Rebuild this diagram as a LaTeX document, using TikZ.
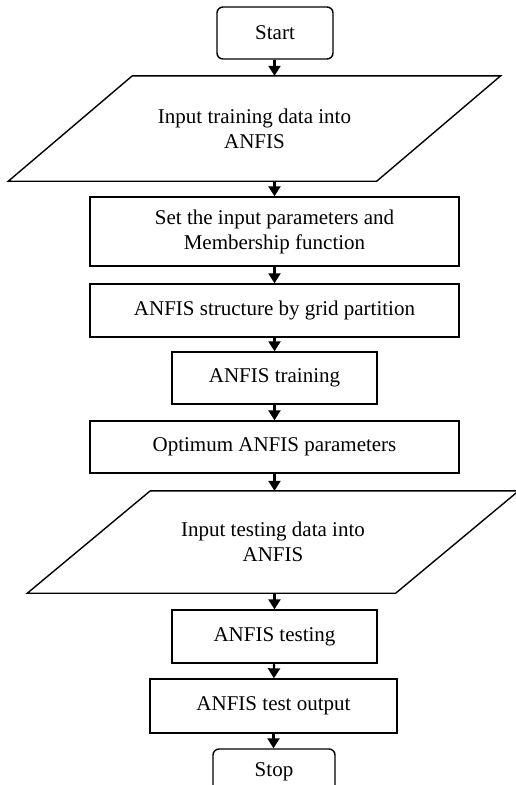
\documentclass[tikz,border=0pt]{standalone}
\usepackage{fontspec}
\setmainfont{Liberation Serif}
\usetikzlibrary{arrows.meta}
\begin{document}
\begin{tikzpicture}[x=1pt,y=-1pt,
  txt/.style={align=center, font=\fontsize{21}{25}\selectfont, inner sep=0pt},
  box/.style={txt, draw, line width=1.4pt},
  term/.style={box, rounded corners=6pt},
  ghost/.style={txt},
  para/.style={draw, line width=1.4pt},
  arr/.style={draw, line width=2.2pt, -{Triangle[width=12pt,length=10pt]}}]
\clip (0,0) rectangle (516,785);
\useasboundingbox (0,0) rectangle (516,785);
\node[term, minimum width=116pt, minimum height=52pt] (start) at (275,33) {Start};
\node[ghost, minimum width=368pt, minimum height=105pt] (p1) at (254.5,128.5) {Input training data into\\ANFIS};
\draw[para] ([xshift=62pt]p1.north west) -- ([xshift=62pt]p1.north east) -- ([xshift=-62pt]p1.south east) -- ([xshift=-62pt]p1.south west) -- cycle;
\node[box, minimum width=369pt, minimum height=69pt] (b1) at (274.5,231.5) {Set the input parameters and\\Membership function};
\node[box, minimum width=369pt, minimum height=53pt] (b2) at (274.5,310.5) {ANFIS structure by grid partition};
\node[box, minimum width=205pt, minimum height=52pt] (b3) at (274.5,378) {ANFIS training};
\node[box, minimum width=369pt, minimum height=52pt] (b4) at (274.5,447) {Optimum ANFIS parameters};
\node[ghost, minimum width=368pt, minimum height=102pt] (p2) at (273,542) {Input testing data into\\ANFIS};
\draw[para] ([xshift=61.5pt]p2.north west) -- ([xshift=61.5pt]p2.north east) -- ([xshift=-61.5pt]p2.south east) -- ([xshift=-61.5pt]p2.south west) -- cycle;
\node[box, minimum width=205pt, minimum height=53pt] (b5) at (274.5,636.5) {ANFIS testing};
\node[box, minimum width=247pt, minimum height=54pt] (b6) at (273.5,706) {ANFIS test output};
\node[term, minimum width=122pt, minimum height=46pt] (stop) at (274,772) {Stop};
\draw[arr] (start.south -| b1.north) -- (p1.north -| b1.north);
\draw[arr] (p1.south -| b1.north) -- (b1.north);
\draw[arr] (b1) -- (b2);
\draw[arr] (b2) -- (b3);
\draw[arr] (b3) -- (b4);
\draw[arr] (b4.south) -- (p2.north -| b4.south);
\draw[arr] (p2.south -| b5.north) -- (b5.north);
\draw[arr] (b5) -- (b6);
\draw[arr] (b6.south) -- (stop.north -| b6.south);
\end{tikzpicture}
\end{document}
